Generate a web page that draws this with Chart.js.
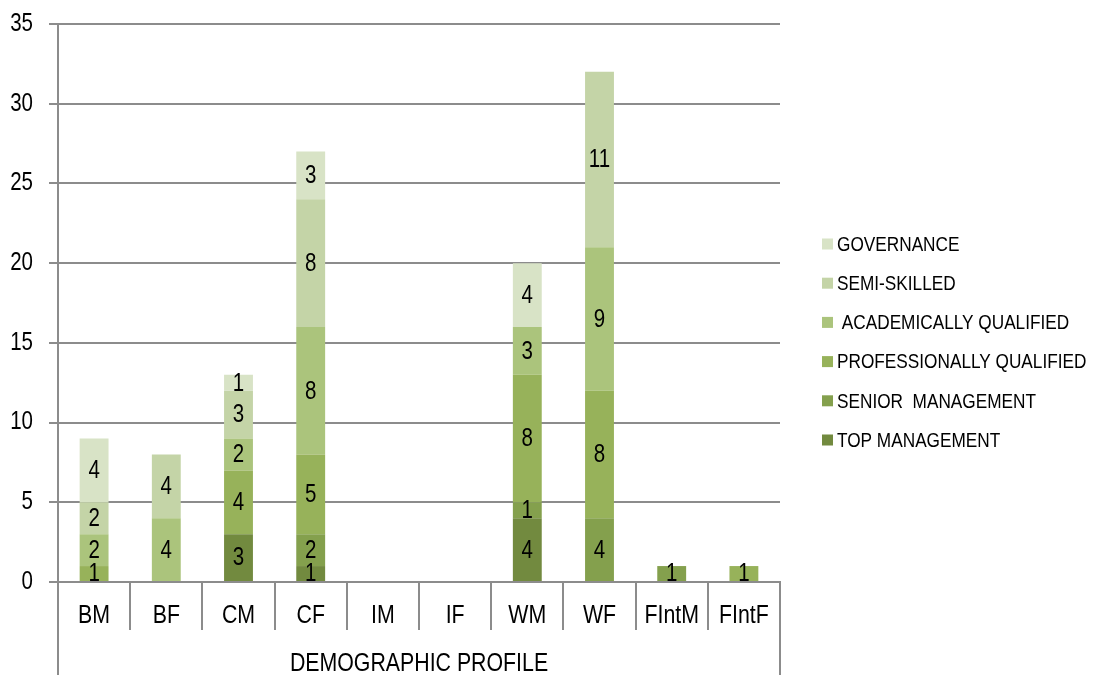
<!DOCTYPE html>
<html>
<head>
<meta charset="utf-8">
<script src="https://cdn.jsdelivr.net/npm/chart.js@4/dist/chart.umd.min.js"></script>
<style>
  html, body { margin: 0; padding: 0; background: #ffffff; }
  #wrap { width: 1094px; height: 675px; }
</style>
</head>
<body>
<div id="wrap"><canvas id="chart" width="1094" height="675"></canvas></div>
<script>
// Staff counts per demographic group, stacked by job category
const categories = ['BM', 'BF', 'CM', 'CF', 'IM', 'IF', 'WM', 'WF', 'FIntM', 'FIntF'];
const groupLabels = ['DEMOGRAPHIC PROFILE'];

const topManagement           = [0, 0, 3, 1, 0, 0, 4, 0, 0, 0];
const seniorManagement        = [0, 0, 0, 2, 0, 0, 1, 4, 1, 0];
const professionallyQualified = [1, 0, 4, 5, 0, 0, 8, 8, 0, 1];
const academicallyQualified   = [2, 4, 2, 8, 0, 0, 3, 9, 0, 0];
const semiSkilled             = [2, 4, 3, 8, 0, 0, 0, 11, 0, 0];
const governance              = [4, 0, 1, 3, 0, 0, 4, 0, 0, 0];

const seriesNames = ['TOP MANAGEMENT', 'SENIOR  MANAGEMENT', 'PROFESSIONALLY QUALIFIED',
                     ' ACADEMICALLY QUALIFIED', 'SEMI-SKILLED', 'GOVERNANCE'];
const seriesList = [topManagement, seniorManagement, professionallyQualified,
                    academicallyQualified, semiSkilled, governance];
const seriesColors = ['#728a3f', '#84a04d', '#97b25a', '#abc47c', '#c4d4a7', '#d8e3c6'];

const yMin = 0, yMax = 35, yStep = 5;

const FONT = "'Liberation Sans', Arial, sans-serif";
const NARROW = 0.82;          // horizontal squeeze giving a narrow typeface look
const GRID = '#8c8c8c';

const canvas = document.getElementById('chart');
const ctx2d = canvas.getContext('2d');

// All text on this canvas is drawn horizontally condensed around its anchor point
const plainFillText = ctx2d.fillText;
ctx2d.fillText = function (text, x, y, maxWidth) {
  this.save();
  this.translate(x, y);
  this.scale(NARROW, 1);
  if (maxWidth === undefined || maxWidth === null) {
    plainFillText.call(this, text, 0, 0);
  } else {
    plainFillText.call(this, text, 0, 0, maxWidth / NARROW);
  }
  this.restore();
};

// Writes each segment's value in the middle of its bar piece
const segmentLabels = {
  id: 'segmentLabels',
  afterDatasetsDraw(chart) {
    const ctx = chart.ctx;
    ctx.save();
    ctx.font = '25px ' + FONT;
    ctx.fillStyle = '#000000';
    ctx.textAlign = 'center';
    ctx.textBaseline = 'middle';
    chart.data.datasets.forEach((ds, i) => {
      const meta = chart.getDatasetMeta(i);
      if (meta.hidden) return;
      meta.data.forEach((el, j) => {
        const v = ds.data[j];
        if (!v) return;
        const p = el.getProps(['x', 'y', 'base'], true);
        ctx.fillText(String(v), p.x, (p.y + p.base) / 2 + 1);
      });
    });
    ctx.restore();
  }
};

// Vertical legend to the right of the plot, last series on top
const sideLegend = {
  id: 'sideLegend',
  afterDraw(chart, args, opts) {
    const ctx = chart.ctx;
    const ds = chart.data.datasets;
    ctx.save();
    ctx.font = opts.fontSize + 'px ' + FONT;
    ctx.textAlign = 'left';
    ctx.textBaseline = 'middle';
    for (let k = 0; k < ds.length; k++) {
      const item = ds[ds.length - 1 - k];
      const cy = opts.top + k * opts.spacing;
      ctx.fillStyle = item.backgroundColor;
      ctx.fillRect(opts.left, cy - opts.box / 2, opts.box, opts.box);
      ctx.fillStyle = '#000000';
      ctx.fillText(item.label, opts.left + opts.box + opts.gap, cy + 1);
    }
    ctx.restore();
  }
};

const datasets = seriesNames.map((name, i) => ({
  label: name,
  data: seriesList[i],
  backgroundColor: seriesColors[i],
  borderWidth: 0,
  xAxisID: 'x',
  yAxisID: 'y',
  barPercentage: 0.4,
  categoryPercentage: 1.0
}));

new Chart(canvas, {
  type: 'bar',
  data: { labels: categories, datasets: datasets },
  plugins: [segmentLabels, sideLegend],
  options: {
    responsive: false,
    devicePixelRatio: 1,
    animation: false,
    layout: { padding: { top: 24, right: 314, bottom: 0, left: 0 } },
    plugins: {
      tooltip: { enabled: false },
      legend: { display: false },
      sideLegend: { left: 822, top: 244, spacing: 39.2, box: 11, gap: 4, fontSize: 21 }
    },
    scales: {
      x: {
        type: 'category',
        position: 'bottom',
        stacked: true,
        offset: true,
        grid: { offset: true, drawOnChartArea: false, color: GRID, lineWidth: 2, tickLength: 48 },
        border: { display: true, color: GRID, width: 2 },
        ticks: { color: '#000000', font: { family: FONT, size: 26 }, padding: -30, maxRotation: 0, autoSkip: false },
        afterFit: (s) => { s.height = 48; }
      },
      x2: {
        type: 'category',
        position: 'bottom',
        labels: groupLabels,
        offset: true,
        grid: { offset: true, drawOnChartArea: false, color: GRID, lineWidth: 2, tickLength: 45 },
        border: { display: false },
        ticks: { color: '#000000', font: { family: FONT, size: 26 }, padding: -27, maxRotation: 0 },
        afterFit: (s) => { s.height = 45; }
      },
      y: {
        type: 'linear',
        position: 'left',
        stacked: true,
        min: yMin,
        max: yMax,
        grid: { color: GRID, lineWidth: 2, tickLength: 9 },
        border: { display: true, color: GRID, width: 2 },
        ticks: { stepSize: yStep, color: '#000000', font: { family: FONT, size: 25 }, padding: 16 },
        afterFit: (s) => { s.width = 58; s.paddingTop = 0; s.paddingBottom = 0; }
      }
    }
  }
});
</script>
</body>
</html>
